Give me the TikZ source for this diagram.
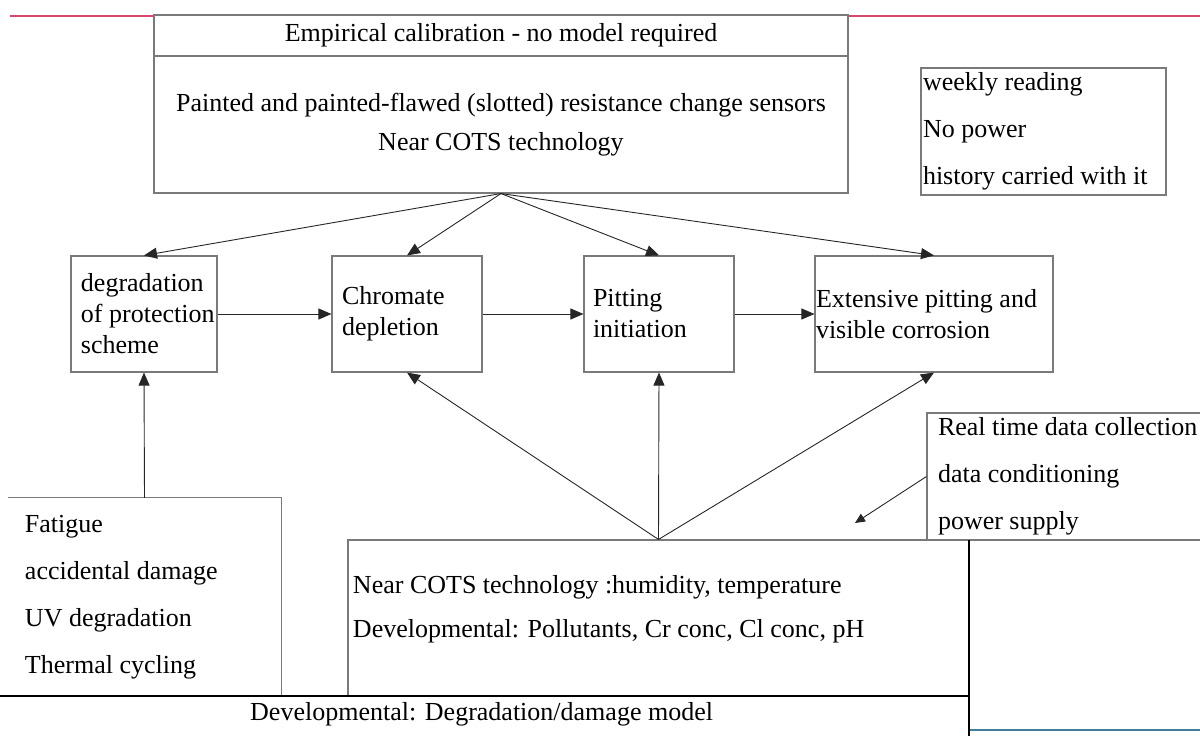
\documentclass[tikz,border=0pt]{standalone}
\usepackage{fontspec}
\setmainfont{Liberation Serif}
\usetikzlibrary{arrows.meta}
\definecolor{boxgray}{HTML}{7A7A7A}
\definecolor{rulered}{HTML}{D9466E}
\definecolor{ruleblue}{HTML}{3F7F9A}

\begin{document}
\begin{tikzpicture}[x=1bp, y=-1bp,
    box/.style={draw=boxgray, line width=1.1bp, inner sep=0pt},
    stage/.style={box, minimum height=116bp, align=flush left, inner xsep=10bp,
      font=\fontsize{26bp}{31bp}\selectfont},
    list/.style={align=flush left, inner sep=0pt, font=\fontsize{26bp}{47bp}\selectfont},
    flow/.style={draw=black!85, line width=0.9bp, -{Triangle[length=13bp,width=11bp]}}
  ]
  \useasboundingbox (0,0) rectangle (1200,736);

  % rules at the page edges
  \draw[rulered, line width=1.2bp] (10,16) -- (154,16);
  \draw[rulered, line width=1.2bp] (848,16) -- (1200,16);
  \draw[ruleblue, line width=1.4bp] (970,730) -- (1200,730);

  \node[box, minimum width=694bp, minimum height=41bp, font=\fontsize{26bp}{31bp}\selectfont] (calhead) at (501,35.5) {Empirical calibration - no model required};
  \node[box, minimum width=694bp, minimum height=137bp, align=flush center, font=\fontsize{26bp}{39bp}\selectfont] (calbody) at (501,124.5) {Painted and painted-flawed (slotted) resistance change sensors\\Near COTS technology};

  \node[box, list, minimum width=245bp, minimum height=127bp, text width=241bp, inner xsep=2bp] (weekly) at (1043.5,131.5) {weekly reading\\No power\\history carried with it};

  \node[stage, minimum width=146bp, text width=126bp] (degr) at (144,314) {degradation\\\mbox{of protection}\\scheme};
  \node[stage, minimum width=150bp, text width=130bp] (chrom) at (407,314) {Chromate\\depletion};
  \node[stage, minimum width=150bp, text width=132bp, inner xsep=9bp] (pitt) at (659,314) {Pitting\\initiation};
  \node[stage, minimum width=238bp, text width=236bp, inner xsep=1bp] (ext) at (934,314) {Extensive pitting and\\visible corrosion};

  \node[list, minimum width=273bp, minimum height=198bp, text width=239bp, inner xsep=17bp] (fatigue) at (144.5,597) {Fatigue\\accidental damage\\UV degradation\\Thermal cycling};
  \draw[boxgray, line width=1.1bp] (fatigue.north west) -- (fatigue.north east) -- (fatigue.south east);

  \node[box, fill=white, list, minimum width=284bp, minimum height=127bp, text width=262bp, inner xsep=11bp] (rtime) at (1069,476.5) {\mbox{Real time data collection}\\data conditioning\\power supply};
  \node[box, fill=white, list, font=\fontsize{26bp}{44bp}\selectfont, minimum width=621bp, minimum height=156bp, text width=611bp, inner xsep=5bp] (sens) at (658.5,618) {Near COTS technology :humidity, temperature\\Developmental: Pollutants, Cr conc, Cl conc, pH\\[-20bp]\mbox{}};

  \draw[line width=1.1bp] (0,696) -- (969,696);
  \draw[line width=1.1bp] (969,540) -- (969,736);
  \node[inner sep=0pt, anchor=west, font=\fontsize{26bp}{31bp}\selectfont] (model) at (250,714) {Developmental: Degradation/damage model};

  \foreach \n in {degr,chrom,pitt,ext}
    \draw[flow] (calbody.south) -- (\n.north);
  \draw[flow] (degr.east) -- (chrom.west);
  \draw[flow] (chrom.east) -- (pitt.west);
  \draw[flow] (pitt.east) -- (ext.west);
  \draw[flow] (fatigue.north) -- (degr.south);
  \foreach \n in {chrom,pitt,ext}
    \draw[flow] (sens.north) -- (\n.south);

  \coordinate (cond) at (855,523);
  \draw[flow, -{Triangle[length=10bp,width=9bp]}] (rtime.west) -- (cond);
\end{tikzpicture}
\end{document}
